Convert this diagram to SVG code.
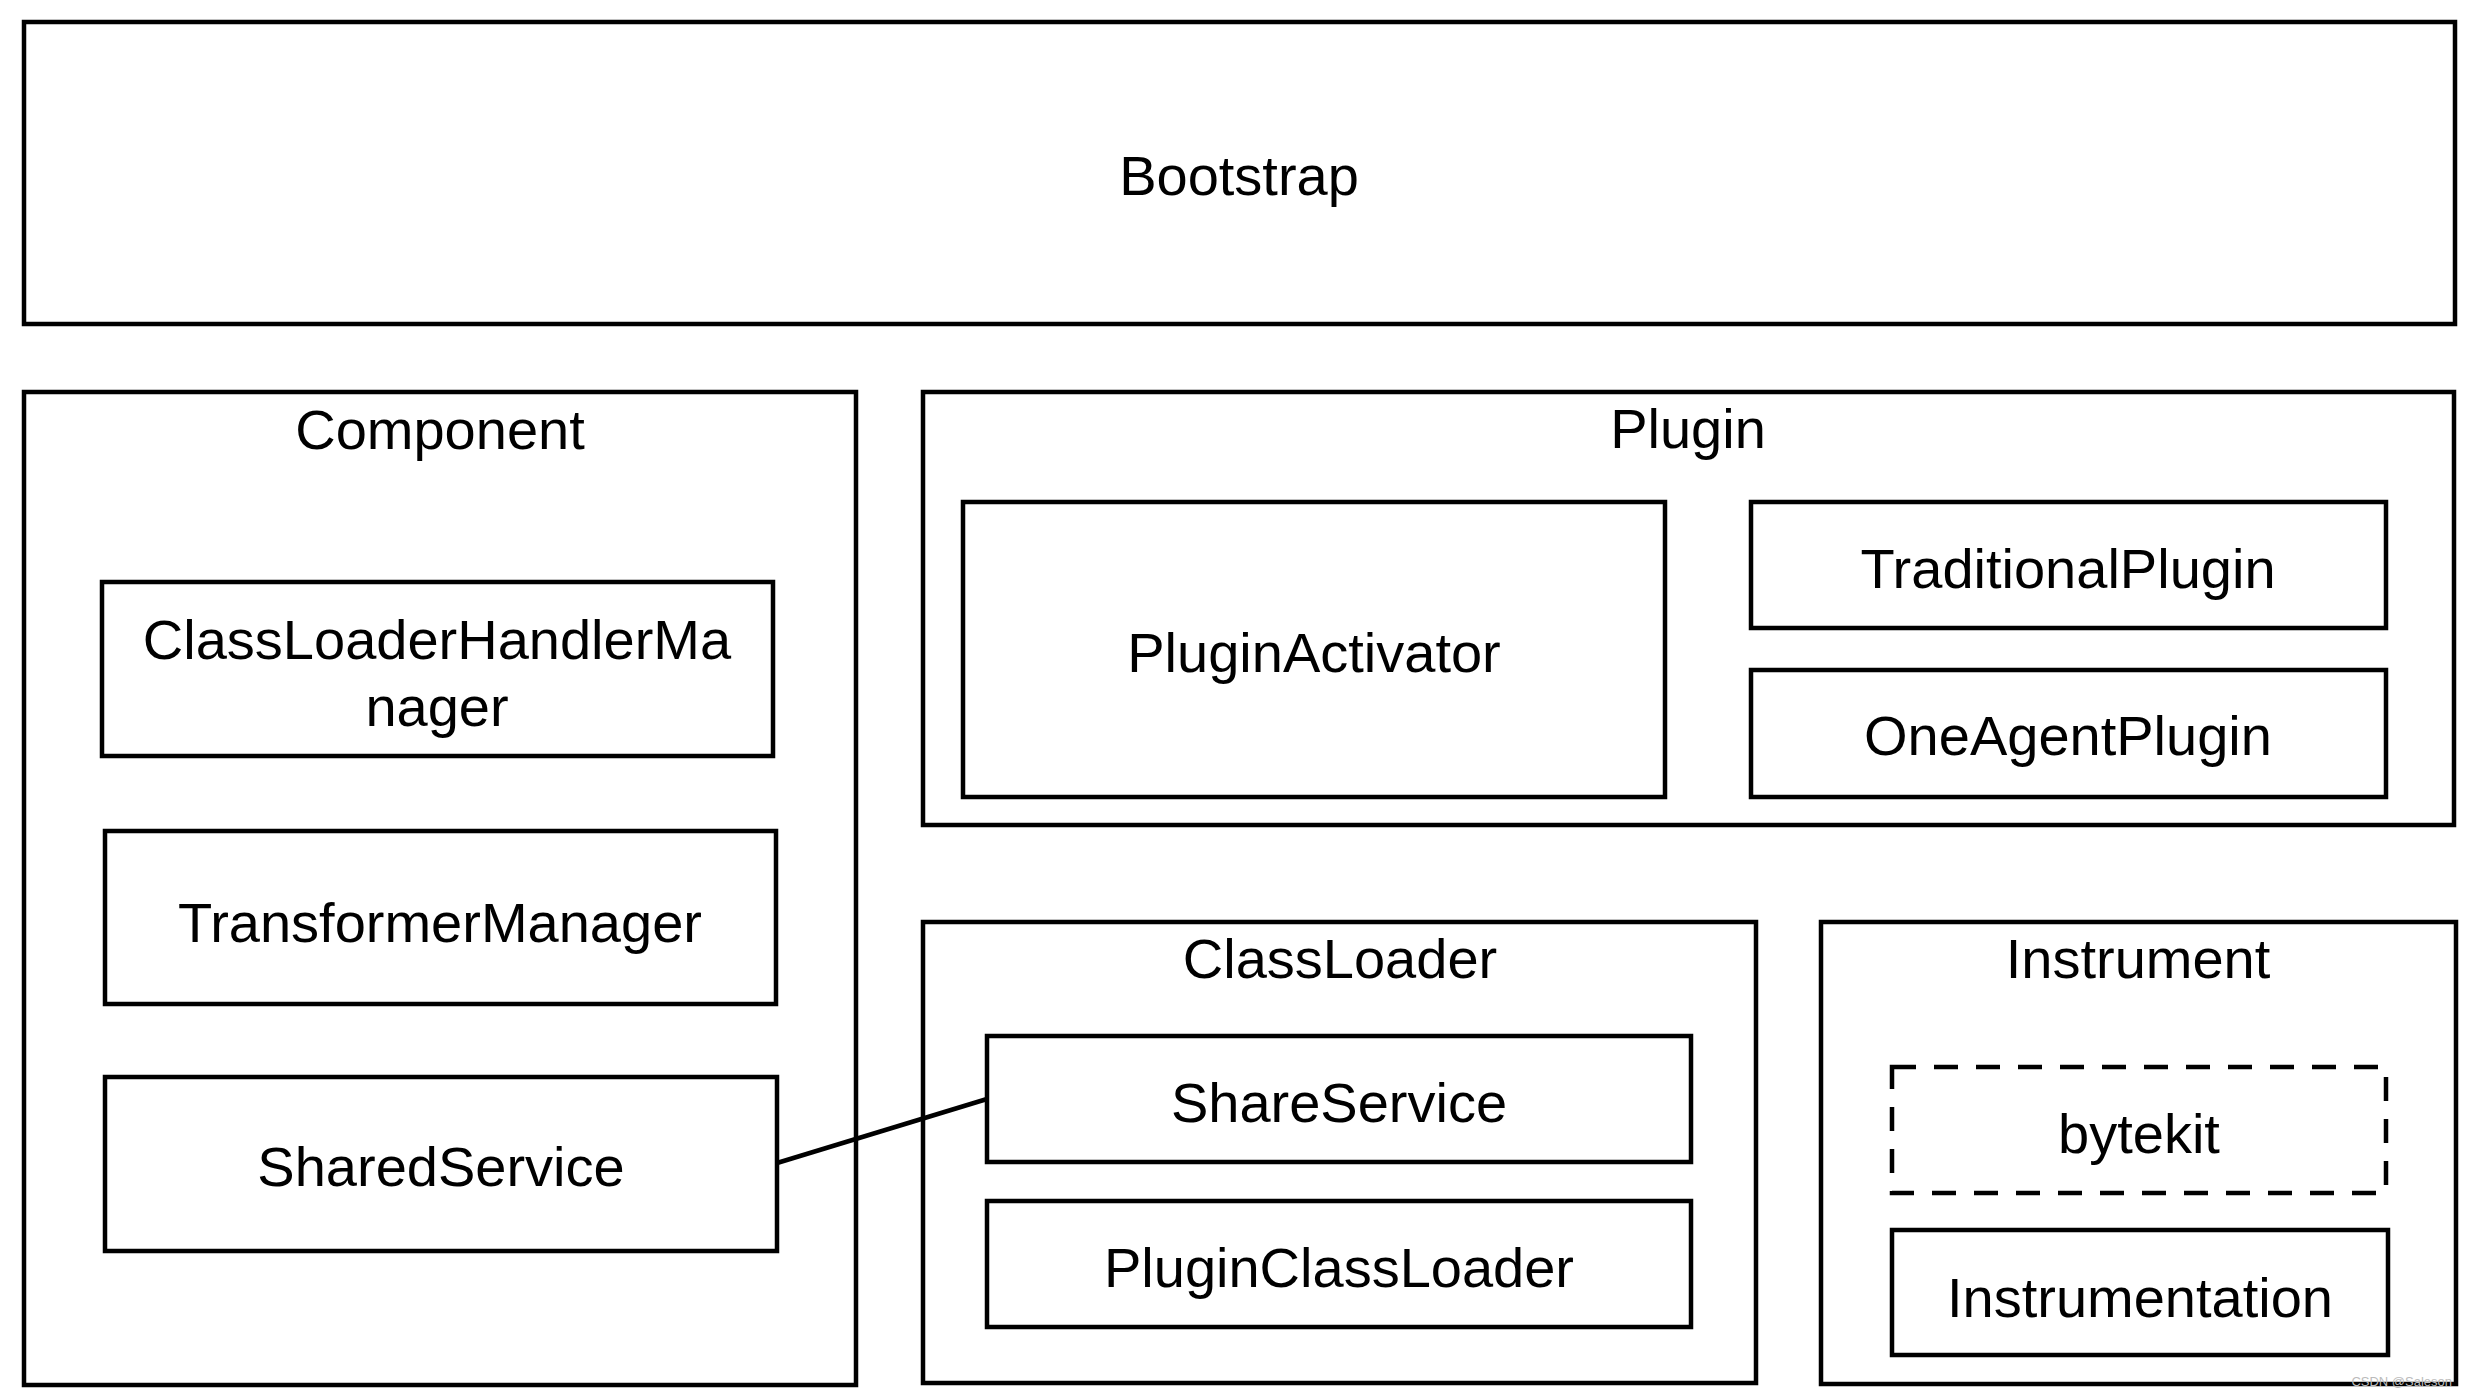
<svg xmlns="http://www.w3.org/2000/svg" width="2468" height="1396" viewBox="0 0 2468 1396">
<style>
.box{fill:none;stroke:#000;stroke-width:4.5}
.dash{fill:none;stroke:#000;stroke-width:4.5;stroke-dasharray:24 18}
.t{font-family:"Liberation Sans",Arial,Helvetica,sans-serif;font-size:56px;fill:#000;text-anchor:middle}
.wm{font-family:"Liberation Sans",Arial,sans-serif;font-size:13px;fill:#bbb;text-anchor:end}
.conn{stroke:#000;stroke-width:4.5;fill:none}
</style>
<rect x="0" y="0" width="2468" height="1396" fill="#fff"/>
<g id="bootstrap"><rect class="box" x="24" y="22" width="2431" height="302"/><text class="t" x="1239" y="195">Bootstrap</text></g>
<g id="component"><rect class="box" x="24" y="392" width="832" height="993"/><text class="t" x="440" y="449">Component</text></g>
<g id="classloaderhandlermanager"><rect class="box" x="102" y="582" width="671" height="174"/><text class="t" x="437" y="659">ClassLoaderHandlerMa</text><text class="t" x="437" y="726">nager</text></g>
<g id="transformermanager"><rect class="box" x="105" y="831" width="671" height="173"/><text class="t" x="440" y="942">TransformerManager</text></g>
<g id="sharedservice"><rect class="box" x="105" y="1077" width="672" height="174"/><text class="t" x="441" y="1186">SharedService</text></g>
<g id="plugin"><rect class="box" x="923" y="392" width="1531" height="433"/><text class="t" x="1688" y="448">Plugin</text></g>
<g id="pluginactivator"><rect class="box" x="963" y="502" width="702" height="295"/><text class="t" x="1314" y="672">PluginActivator</text></g>
<g id="traditionalplugin"><rect class="box" x="1751" y="502" width="635" height="126"/><text class="t" x="2068" y="588">TraditionalPlugin</text></g>
<g id="oneagentplugin"><rect class="box" x="1751" y="670" width="635" height="127"/><text class="t" x="2068" y="755">OneAgentPlugin</text></g>
<g id="classloader"><rect class="box" x="923" y="922" width="833" height="461"/><text class="t" x="1340" y="978">ClassLoader</text></g>
<g id="shareservice"><rect class="box" x="987" y="1036" width="704" height="126"/><text class="t" x="1339" y="1122">ShareService</text></g>
<g id="pluginclassloader"><rect class="box" x="987" y="1201" width="704" height="126"/><text class="t" x="1339" y="1287">PluginClassLoader</text></g>
<g id="instrument"><rect class="box" x="1821" y="922" width="635" height="462"/><text class="t" x="2138" y="978">Instrument</text></g>
<g id="bytekit"><rect class="dash" x="1892" y="1067" width="494" height="126"/><text class="t" x="2139" y="1153">bytekit</text></g>
<g id="instrumentation"><rect class="box" x="1892" y="1230" width="496" height="125"/><text class="t" x="2140" y="1317">Instrumentation</text></g>
<g id="connectors"><line class="conn" x1="777" y1="1163" x2="987" y2="1099"/></g>
<text class="wm" x="2452" y="1386">CSDN @Saleson</text>
</svg>
